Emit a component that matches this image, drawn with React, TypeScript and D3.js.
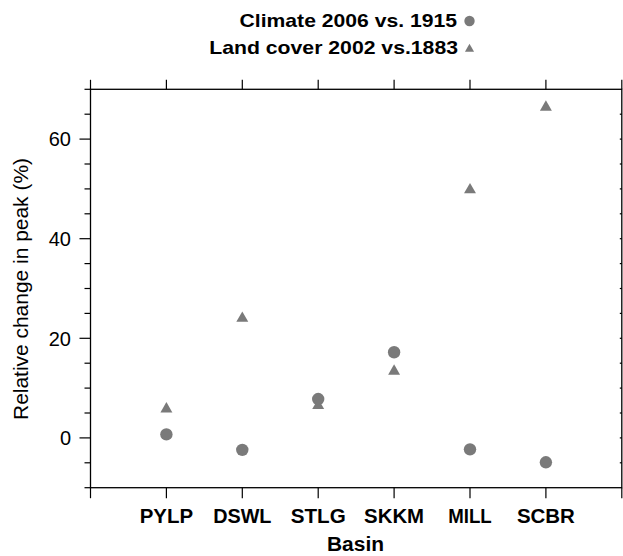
import React from "react";
import * as d3 from "d3";

const categories = ["PYLP", "DSWL", "STLG", "SKKM", "MILL", "SCBR"];
const climate = [0.7, -2.4, 7.8, 17.2, -2.3, -4.9];
const landCover = [6.0, 24.2, 6.7, 13.6, 50.0, 66.6];
const yMajorTicks = [0, 20, 40, 60];
const legendLabels = ["Climate 2006 vs. 1915", "Land cover 2002 vs.1883"];
const xTitle = "Basin";
const yTitle = "Relative change in peak (%)";

const W = 623;
const H = 556;
const FONT = "'Liberation Sans', Arial, Helvetica, sans-serif";
const GRAY = "#7a7a7a";
const catWidths = [53.4, 58.3, 55, 60, 43.5, 58];

export default function App() {
  const x = d3.scaleLinear().domain([0, categories.length + 1]).range([90.5, 621.8]);
  const y = d3.scaleLinear().domain([-10, 70]).range([487.7, 89.3]);
  const minor = d3.range(-10, 71, 5).filter((v) => !yMajorTicks.includes(v));
  const xTickVals = d3.range(0, categories.length + 2);
  const [x0, x1] = x.range();
  const [yb, yt] = y.range();
  const tri = d3.symbol().type(d3.symbolTriangle).size(62);

  return (
    <svg width={W} height={H} style={{ position: "absolute", left: 0, top: 0 }} fontFamily={FONT}>
      <rect width={W} height={H} fill="#fff" />
      {/* frame */}
      <rect x={x0} y={yt} width={x1 - x0} height={yb - yt} fill="none" stroke="#000" strokeWidth={1.3} />
      {/* left ticks */}
      {yMajorTicks.map((v) => (
        <g key={"M" + v}>
          <line x1={x0 - 11} x2={x0} y1={y(v)} y2={y(v)} stroke="#000" strokeWidth={1.2} />
          <text x={71} y={y(v)} dy="0.36em" textAnchor="end" fontSize={20} fill="#000">
            {v}
          </text>
        </g>
      ))}
      {minor.map((v) => (
        <line key={"m" + v} x1={x0 - 6} x2={x0} y1={y(v)} y2={y(v)} stroke="#000" strokeWidth={1.2} />
      ))}
      {/* right ticks */}
      {d3.range(-5, 70, 5).map((v) => (
        <line key={"r" + v} x1={x1 - 2} x2={x1} y1={y(v)} y2={y(v)} stroke="#000" strokeWidth={1.2} />
      ))}
      {/* bottom & top ticks */}
      {xTickVals.map((v) => (
        <g key={"x" + v}>
          <line x1={x(v)} x2={x(v)} y1={yb} y2={yb + 10.5} stroke="#000" strokeWidth={1.2} />
          <line x1={x(v)} x2={x(v)} y1={yt} y2={yt - 9.5} stroke="#000" strokeWidth={1.2} />
        </g>
      ))}
      {categories.map((c, i) => (
        <text
          key={c}
          x={x(i + 1)}
          y={523}
          textAnchor="middle"
          fontSize={20}
          fontWeight="bold"
          textLength={catWidths[i]}
          lengthAdjust="spacingAndGlyphs"
        >
          {c}
        </text>
      ))}
      <text x={355.5} y={551} textAnchor="middle" fontSize={19.5} fontWeight="bold" textLength={57} lengthAdjust="spacingAndGlyphs">
        {xTitle}
      </text>
      <text
        transform={`translate(28,289) rotate(-90)`}
        textAnchor="middle"
        fontSize={19.5}
        textLength={262}
        lengthAdjust="spacingAndGlyphs"
      >
        {yTitle}
      </text>
      {/* data */}
      {climate.map((v, i) => (
        <circle key={"c" + i} cx={x(i + 1)} cy={y(v)} r={6.2} fill={GRAY} />
      ))}
      {landCover.map((v, i) => (
        <path key={"t" + i} d={tri() as string} transform={`translate(${x(i + 1)},${y(v) + 1})`} fill={GRAY} />
      ))}
      {/* legend */}
      <text x={457} y={27} textAnchor="end" fontSize={18.5} fontWeight="bold" textLength={217.5} lengthAdjust="spacingAndGlyphs">
        {legendLabels[0]}
      </text>
      <circle cx={469.5} cy={21} r={5.2} fill={GRAY} />
      <text x={458} y={54} textAnchor="end" fontSize={18.5} fontWeight="bold" textLength={248.7} lengthAdjust="spacingAndGlyphs">
        {legendLabels[1]}
      </text>
      <path d={d3.symbol().type(d3.symbolTriangle).size(36)() as string} transform="translate(469.5,49)" fill={GRAY} />
    </svg>
  );
}
